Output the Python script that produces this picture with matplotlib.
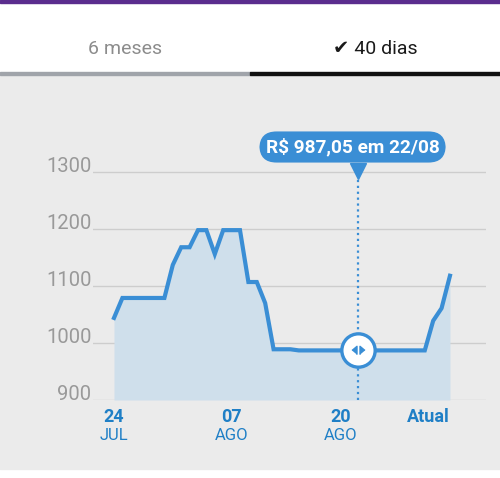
import matplotlib
matplotlib.use("Agg")
import matplotlib.pyplot as plt
from matplotlib.patches import Rectangle
from matplotlib import transforms

plt.rcParams['font.family'] = ['Roboto', 'DejaVu Sans']

# price per day, day 0 = 24 JUL, day 40 = today ("Atual")
days = list(range(41))
prices = [1044, 1079, 1079, 1079, 1079, 1079, 1079, 1137, 1168, 1168,
          1198, 1198, 1156, 1198, 1198, 1198, 1107, 1107, 1070, 989,
          989, 989, 987, 987, 987, 987, 987, 987, 987, 987.05,
          987, 987, 987, 987, 987, 987, 987, 987, 1039, 1061,
          1118]

tick_days = [0, 14, 27, 40]
tick_day_labels = ['24', '07', '20', 'Atual']
tick_months = ['JUL', 'AGO', 'AGO', '']
y_ticks = [900, 1000, 1100, 1200, 1300]

selected_day = 29
selected_price = 987.05
tooltip = 'R$ 987,05 em 22/08'
tabs = ['6 meses', '\u2714 40 dias']

BLUE = '#3a8ed5'
TICK_BLUE = '#1f7fc6'
FILL = '#cfdfeb'
BG = '#ebebeb'

W, H = 500, 478
fig = plt.figure(figsize=(W / 100, H / 100), dpi=100)
fig.patch.set_facecolor('white')


def fy(px):
    return 1 - px / H


# header and backgrounds
fig.patches.extend([
    Rectangle((0, fy(3)), 1, 3 / H, transform=fig.transFigure, color='#5b2d8e', zorder=-10),
    Rectangle((0, fy(469)), 1, 394 / H, transform=fig.transFigure, color=BG, zorder=-10),
    Rectangle((0, fy(75)), 0.5, 3 / H, transform=fig.transFigure, color='#a0a4aa', zorder=-10),
    Rectangle((0.5, fy(75)), 0.5, 3 / H, transform=fig.transFigure, color='#111111', zorder=-10),
])
fig.text(125 / W, fy(49), tabs[0], ha='center', va='center', fontsize=14, color='#8c8c8c')
fig.text(375 / W, fy(49), tabs[1], ha='center', va='center', fontsize=14, color='#1a1a1a')

# plot area: x 93..486 px, y 120..400 px
ax = fig.add_axes([93 / W, (H - 400) / H, 393 / W, 280 / H])
ax.set_facecolor('none')
for s in ax.spines.values():
    s.set_visible(False)
ax.set_xlim(-2.5, 44.29)
ax.set_ylim(900, 900 + 280 / 0.57)

ax.set_yticks(y_ticks, labels=[str(v) for v in y_ticks], va='baseline',
              fontsize=14.5, color='#999999')
ax.grid(axis='y', color='#cdcdcd', lw=1)
ax.set_axisbelow(True)
ax.tick_params(axis='y', length=0, pad=1)

ax.set_xticks(tick_days, labels=tick_day_labels, fontsize=13, fontweight='bold', color=TICK_BLUE)
ax.tick_params(axis='x', length=0, pad=6)
ax.get_xticklabels()[-1].set_ha('right')
for d, m in zip(tick_days, tick_months):
    ax.annotate(m, (d, 0), xycoords=('data', 'axes fraction'), xytext=(0, -20.5),
                textcoords='offset points', ha='center', va='top', fontsize=12, color=TICK_BLUE)

ax.fill_between(days, prices, 900, color=FILL, lw=0)
ax.plot(days, prices, color=BLUE, lw=3, solid_joinstyle='miter')

# crosshair + tooltip
ax.axvline(selected_day, ymin=0, ymax=(400 - 179) / 280, color=BLUE, ls=':', lw=1.6)
ax.plot([selected_day], [(400 - 171) / 280], marker='v', ms=12, color=BLUE,
        transform=ax.get_xaxis_transform(), clip_on=False)
ax.annotate(tooltip, (selected_day - 0.6, (400 - 147) / 280),
            xycoords=('data', 'axes fraction'), ha='center', va='center',
            fontsize=13.7, fontweight='bold', color='white',
            bbox=dict(boxstyle='round,pad=0.33,rounding_size=0.9', fc=BLUE, ec='none'))

ax.plot([selected_day], [selected_price], marker='o', ms=24, mfc='white', mec=BLUE, mew=2.4)
left_tri = [(-0.6, 0), (0.6, 1), (0.6, -1)]
right_tri = [(0.6, 0), (-0.6, 1), (-0.6, -1)]
off_l = transforms.offset_copy(ax.transData, fig, x=-4, y=0, units='dots')
off_r = transforms.offset_copy(ax.transData, fig, x=4, y=0, units='dots')
ax.plot([selected_day], [selected_price], marker=left_tri, ms=6, color=BLUE, transform=off_l)
ax.plot([selected_day], [selected_price], marker=right_tri, ms=6, color=BLUE, transform=off_r)

fig.savefig('out.png', dpi=100, facecolor=fig.get_facecolor())
